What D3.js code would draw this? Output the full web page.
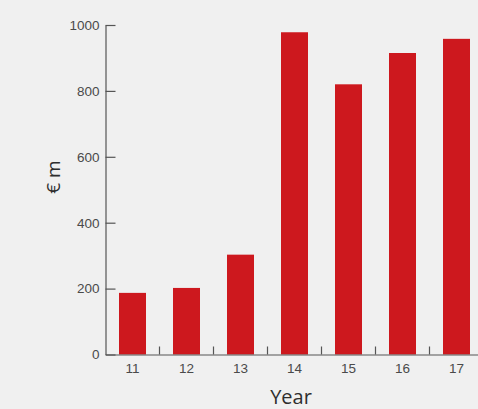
<!DOCTYPE html>
<html>
<head>
<meta charset="utf-8">
<script src="https://cdn.jsdelivr.net/npm/d3@7"></script>
<style>
  html, body { margin: 0; padding: 0; background: #f0f0f0; }
  svg { display: block; }
  .tick text { font-family: "Liberation Sans", Arial, sans-serif; }
  .title { font-family: "Open Sans", sans-serif; }
</style>
</head>
<body>
<svg id="chart" width="478" height="409"></svg>
<script>
// Yearly amounts, € million
const years = ["11", "12", "13", "14", "15", "16", "17"];
const amounts = [187, 202, 303, 978, 820, 915, 958];
const yTicks = [0, 200, 400, 600, 800, 1000];

const svg = d3.select("#chart");
const barColor = "#cd181e";
const axisColor = "#555555";
const labelColor = "#4a4a4a";

const x = d3.scaleBand()
  .domain(years)
  .range([105.5, 483.5])
  .paddingInner(0.5)
  .paddingOuter(0.25);

const y = d3.scaleLinear()
  .domain([0, 1000])
  .range([354.5, 25]);

// bars
svg.append("g")
  .selectAll("rect")
  .data(years)
  .join("rect")
  .attr("x", (d) => x(d))
  .attr("width", x.bandwidth())
  .attr("y", (d, i) => y(amounts[i]))
  .attr("height", (d, i) => y(0) - y(amounts[i]))
  .attr("fill", barColor);

// y axis with inward ticks
const yAxis = svg.append("g")
  .attr("transform", "translate(105.5,0)")
  .call(d3.axisLeft(y)
    .tickValues(yTicks)
    .tickFormat(d3.format("d"))
    .tickSizeInner(-10)
    .tickSizeOuter(0)
    .tickPadding(6));
yAxis.select(".domain").attr("stroke", axisColor).attr("stroke-width", 1.2);
yAxis.selectAll(".tick line").attr("stroke", axisColor).attr("stroke-width", 1.2);
yAxis.selectAll(".tick text")
  .attr("fill", labelColor)
  .style("font-size", "13.5px");

// x axis: baseline, labels under bar centres, ticks between bars
const xAxis = svg.append("g")
  .attr("transform", `translate(0,${y(0)})`)
  .call(d3.axisBottom(x).tickSize(0).tickPadding(9));
xAxis.select(".domain").attr("stroke", axisColor).attr("stroke-width", 1.2);
xAxis.selectAll(".tick text")
  .attr("fill", labelColor)
  .style("font-size", "13.5px");

const gap = x.step() * x.paddingInner() / 2;
xAxis.append("g")
  .selectAll("line")
  .data(years.slice(1))
  .join("line")
  .attr("x1", (d) => x(d) - gap)
  .attr("x2", (d) => x(d) - gap)
  .attr("y1", 0)
  .attr("y2", -8)
  .attr("stroke", axisColor)
  .attr("stroke-width", 1.2);

// axis titles
svg.append("text")
  .attr("class", "title")
  .attr("x", 291)
  .attr("y", 404)
  .attr("text-anchor", "middle")
  .attr("fill", "#2e2e2e")
  .style("font-size", "20px")
  .text("Year");

svg.append("text")
  .attr("class", "title")
  .attr("transform", "translate(60,177) rotate(-90)")
  .attr("text-anchor", "middle")
  .attr("fill", "#2e2e2e")
  .style("font-size", "19px")
  .text("€ m");
</script>
</body>
</html>
